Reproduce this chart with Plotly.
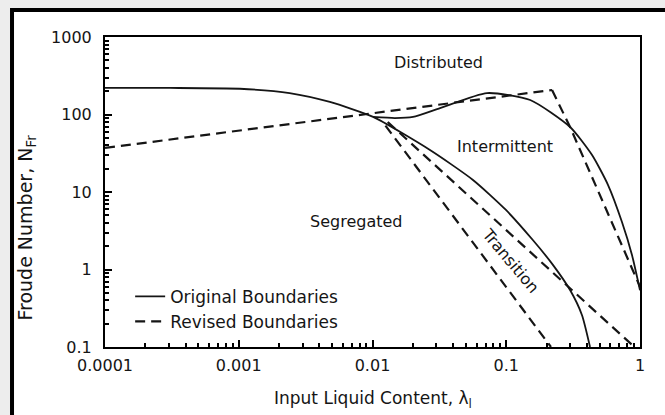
import math
import plotly.graph_objects as go

# ── Data (x: input liquid content, y: Froude number) ──
orig_seg_x = [0.0001, 0.000306, 0.00102, 0.0024, 0.0048, 0.0101, 0.0269, 0.0564, 0.0995, 0.158, 0.224, 0.300, 0.368, 0.423]
orig_seg_y = [220, 220, 215, 189, 145, 93, 34.8, 14.3, 5.86, 2.40, 1.14, 0.543, 0.259, 0.1]

orig_int_x = [0.0101, 0.0147, 0.0201, 0.032, 0.0718, 0.151, 0.30, 0.438, 0.577, 0.733, 0.871, 1.0]
orig_int_y = [93, 90, 93, 121, 189, 154, 69, 30, 12.3, 4.1, 1.54, 0.54]

rev_seg_x = [0.0001, 0.001, 0.01, 0.22]
rev_seg_y = [37, 62, 104, 207]

rev_int_x = [0.22, 0.30, 1.0]
rev_int_y = [207, 69, 0.6]

rev_tr_left_x = [0.0125, 0.216]
rev_tr_left_y = [72, 0.1]

rev_tr_right_x = [0.013, 0.88]
rev_tr_right_y = [80, 0.105]

x_ticks = [0.0001, 0.001, 0.01, 0.1, 1]
x_tick_text = ["0.0001", "0.001", "0.01", "0.1", "1"]
y_ticks = [0.1, 1, 10, 100, 1000]
y_tick_text = ["0.1", "1", "10", "100", "1000"]

# region labels: (text, x, y, angle)
region_labels = [
    ("Distributed", 0.0314, 462, 0),
    ("Intermittent", 0.098, 39, 0),
    ("Segregated", 0.00753, 4.2, 0),
    ("Transition", 0.107, 1.29, 50),
]

FONT = "DejaVu Sans"
INK = "#151515"
DASH = "10px,6px"

minor_x = [k * 10 ** e for e in range(-4, 0) for k in range(2, 10)]
minor_y = [k * 10 ** e for e in range(-1, 3) for k in range(2, 10)]

solid = dict(color=INK, width=1.8, shape="spline", smoothing=0.6)
dashed = dict(color=INK, width=2.2, dash=DASH)

traces = [
    go.Scatter(x=orig_seg_x, y=orig_seg_y, mode="lines", name="Original Boundaries",
               line=solid, legendgroup="orig"),
    go.Scatter(x=orig_int_x, y=orig_int_y, mode="lines", name="Original Boundaries",
               line=solid, legendgroup="orig", showlegend=False),
    go.Scatter(x=rev_seg_x, y=rev_seg_y, mode="lines", name="Revised Boundaries",
               line=dashed, legendgroup="rev"),
    go.Scatter(x=rev_int_x, y=rev_int_y, mode="lines", name="Revised Boundaries",
               line=dashed, legendgroup="rev", showlegend=False),
    go.Scatter(x=rev_tr_left_x, y=rev_tr_left_y, mode="lines", name="Revised Boundaries",
               line=dashed, legendgroup="rev", showlegend=False),
    go.Scatter(x=rev_tr_right_x, y=rev_tr_right_y, mode="lines", name="Revised Boundaries",
               line=dashed, legendgroup="rev", showlegend=False),
]

annotations = []
for text, lx, ly, ang in region_labels:
    annotations.append(dict(
        x=math.log10(lx), y=math.log10(ly), xref="x", yref="y", text=text,
        showarrow=False, textangle=ang, font=dict(family=FONT, size=16, color=INK),
    ))

# axis titles
annotations.append(dict(
    x=0.5, y=-0.168, xref="paper", yref="paper", text="Input Liquid Content, λ<sub>l</sub>",
    showarrow=False, xanchor="center", yanchor="middle", font=dict(family=FONT, size=17, color=INK),
))
annotations.append(dict(
    x=-0.146, y=0.385, xref="paper", yref="paper", text="Froude Number, N<sub>Fr</sub>",
    showarrow=False, textangle=-90, xanchor="center", yanchor="middle",
    font=dict(family=FONT, size=19, color=INK),
))

axis_common = dict(
    type="log", showgrid=False, zeroline=False,
    showline=True, linecolor="black", linewidth=2, mirror=True,
    ticks="inside", ticklen=7, tickwidth=1.5, tickcolor="black",
    tickfont=dict(family=FONT, size=16, color=INK),
)

fig = go.Figure(data=traces)
fig.update_layout(
    width=665, height=415,
    margin=dict(l=105, r=25, t=37, b=68),
    paper_bgcolor="#ededed", plot_bgcolor="white",
    xaxis=dict(axis_common, range=[-4, 0], tickmode="array", tickvals=x_ticks, ticktext=x_tick_text,
               ticklabelstandoff=3,
               minor=dict(tickmode="array", tickvals=minor_x, ticks="inside", ticklen=4, tickcolor="black")),
    yaxis=dict(axis_common, range=[-1, 3], tickmode="array", tickvals=y_ticks, ticktext=y_tick_text,
               ticklabelstandoff=8,
               minor=dict(tickmode="array", tickvals=minor_y, ticks="inside", ticklen=4, tickcolor="black")),
    showlegend=True,
    legend=dict(x=0.047, y=0.22, xanchor="left", yanchor="top", bgcolor="rgba(0,0,0,0)",
                font=dict(family=FONT, size=17, color=INK), tracegroupgap=0),
    annotations=annotations,
    shapes=[dict(type="rect", xref="paper", yref="paper",
                 x0=-0.1738, x1=1.08, y0=-0.25, y1=1.087,
                 line=dict(color="black", width=4), fillcolor="white", layer="below")],
)

fig.write_html(
    "out.html",
    config={"displayModeBar": False},
    post_script="document.body.style.margin='0';document.body.style.background='#ededed';",
)
